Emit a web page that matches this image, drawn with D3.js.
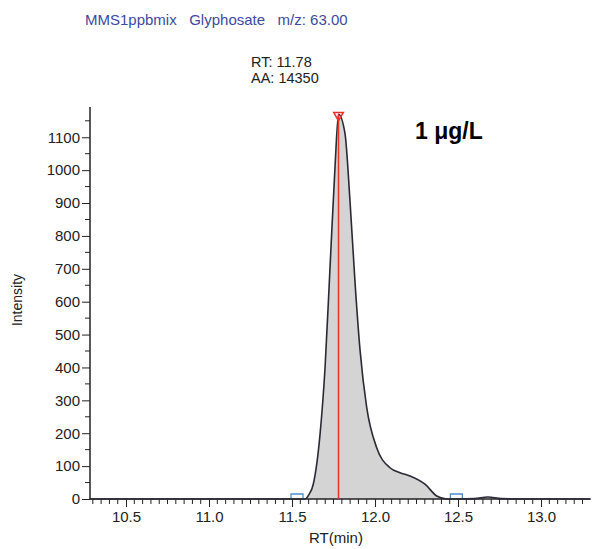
<!DOCTYPE html>
<head>
<meta charset="utf-8">
<script src="https://d3js.org/d3.v7.min.js"></script>
</head>
<style>
body { margin: 0; background: #fff; }
text { font-family: "Liberation Sans", Arial, sans-serif; }
</style>
<body>
<script>
// chromatogram trace (RT in min, intensity)
var rt = [10.28, 10.8, 11.2, 11.45, 11.55, 11.578, 11.60, 11.628, 11.669, 11.699, 11.729, 11.759, 11.78,
          11.819, 11.849, 11.88, 11.91, 11.95, 12.01, 12.09, 12.15, 12.211, 12.301, 12.372, 12.432,
          12.5, 12.6, 12.68, 12.76, 12.9, 13.1, 13.3];
var intensity = [0, 0, 0, 0, 0, 0, 12, 45, 198, 400, 705, 1010, 1170,
                 1112, 908, 655, 451, 278, 156, 95, 80, 70, 45, 9, 0,
                 0, 1, 6, 1, 0, 0, 0];
var peakRT = 11.78, peakI = 1170;
var bounds = [11.53, 12.49];
var yTicks = [0, 100, 200, 300, 400, 500, 600, 700, 800, 900, 1000, 1100];
var xTicks = [10.5, 11.0, 11.5, 12.0, 12.5, 13.0];

var data = rt.map(function(d, i) { return {rt: d, i: intensity[i]}; });

var svg = d3.select("body").append("svg")
    .attr("width", 593).attr("height", 549);

var x = d3.scaleLinear().domain([10.283, 13.295]).range([90, 590]);
var y = d3.scaleLinear().domain([0, 1192]).range([499, 107]);

// peak fill
var peak = data.filter(function(d) { return d.rt >= bounds[0] && d.rt <= bounds[1]; });
svg.append("path")
    .datum(peak)
    .attr("fill", "#d4d4d4")
    .attr("d", d3.area().x(function(d) { return x(d.rt); }).y0(y(0)).y1(function(d) { return y(d.i); }).curve(d3.curveMonotoneX));

// axes
var xAxis = d3.axisBottom(x).tickValues(xTicks).tickFormat(d3.format(".1f")).tickSize(8).tickPadding(4);
var gx = svg.append("g").attr("transform", "translate(0," + y(0) + ")").call(xAxis);
gx.select(".domain").remove();
svg.append("g").attr("transform", "translate(0," + y(0) + ")")
  .selectAll("line").data(d3.range(10.3, 13.3, 0.05).filter(function(v) { return Math.abs(v * 2 - Math.round(v * 2)) > 1e-6; }))
  .enter().append("line")
    .attr("x1", function(d) { return x(d); }).attr("x2", function(d) { return x(d); })
    .attr("y1", 0).attr("y2", 5).attr("stroke", "#222");

var yAxis = d3.axisLeft(y).tickValues(yTicks).tickFormat(d3.format("d")).tickSize(8).tickPadding(2);
var gy = svg.append("g").attr("transform", "translate(90,0)").call(yAxis);
gy.select(".domain").remove();
svg.append("g").attr("transform", "translate(90,0)")
  .selectAll("line").data(d3.range(50, 1200, 100))
  .enter().append("line")
    .attr("x1", -5).attr("x2", 0)
    .attr("y1", function(d) { return y(d); }).attr("y2", function(d) { return y(d); })
    .attr("stroke", "#222");

svg.selectAll(".tick line").attr("stroke", "#222");
svg.selectAll(".tick text").attr("fill", "#222").style("font-size", "15px")
    .style("font-family", "'Liberation Sans', Arial, sans-serif");

// axis lines
svg.append("line").attr("x1", 90).attr("x2", 90).attr("y1", 107).attr("y2", y(0)).attr("stroke", "#222").attr("stroke-width", 1.5);
svg.append("line").attr("x1", 90).attr("x2", 590).attr("y1", y(0)).attr("y2", y(0)).attr("stroke", "#222").attr("stroke-width", 1.5);

// trace
svg.append("path")
    .datum(data)
    .attr("fill", "none")
    .attr("stroke", "#2a2a35")
    .attr("stroke-width", 1.6)
    .attr("d", d3.line().x(function(d) { return x(d.rt); }).y(function(d) { return y(d.i); }).curve(d3.curveMonotoneX));

// RT marker
svg.append("line")
    .attr("x1", x(peakRT)).attr("x2", x(peakRT))
    .attr("y1", y(0)).attr("y2", y(peakI))
    .attr("stroke", "#e8332b").attr("stroke-width", 1.5);
svg.append("path")
    .attr("d", d3.symbol().type(d3.symbolTriangle).size(40))
    .attr("transform", "translate(" + x(peakRT) + "," + (y(peakI) + 1) + ") rotate(180)")
    .attr("fill", "none").attr("stroke", "#e8332b").attr("stroke-width", 1.5);

// integration bounds
bounds.forEach(function(b) {
  svg.append("path")
    .attr("d", "M" + (x(b) - 6) + "," + (y(0) - 1) + "V" + (y(0) - 5) + "H" + (x(b) + 6) + "V" + (y(0) - 1))
    .attr("fill", "none").attr("stroke", "#4a90d0").attr("stroke-width", 1.3);
});

// texts
svg.append("text").attr("x", 85).attr("y", 25).attr("fill", "#3d4aa0").style("font-size", "15px")
    .attr("xml:space", "preserve")
    .text("MMS1ppbmix   Glyphosate   m/z: 63.00");
svg.append("text").attr("x", 251).attr("y", 67).attr("fill", "#222").style("font-size", "14.5px").text("RT: 11.78");
svg.append("text").attr("x", 251).attr("y", 83).attr("fill", "#222").style("font-size", "14.5px").text("AA: 14350");
svg.append("text").attr("x", 415).attr("y", 139).attr("fill", "#000")
    .style("font-size", "23px").style("font-weight", "bold")
    .text("1 μg/L");
svg.append("text").attr("transform", "translate(22,300) rotate(-90)").attr("text-anchor", "middle")
    .attr("fill", "#222").style("font-size", "14px").text("Intensity");
svg.append("text").attr("x", 336).attr("y", 543).attr("text-anchor", "middle")
    .attr("fill", "#222").style("font-size", "15px").text("RT(min)");
</script>
</body>
